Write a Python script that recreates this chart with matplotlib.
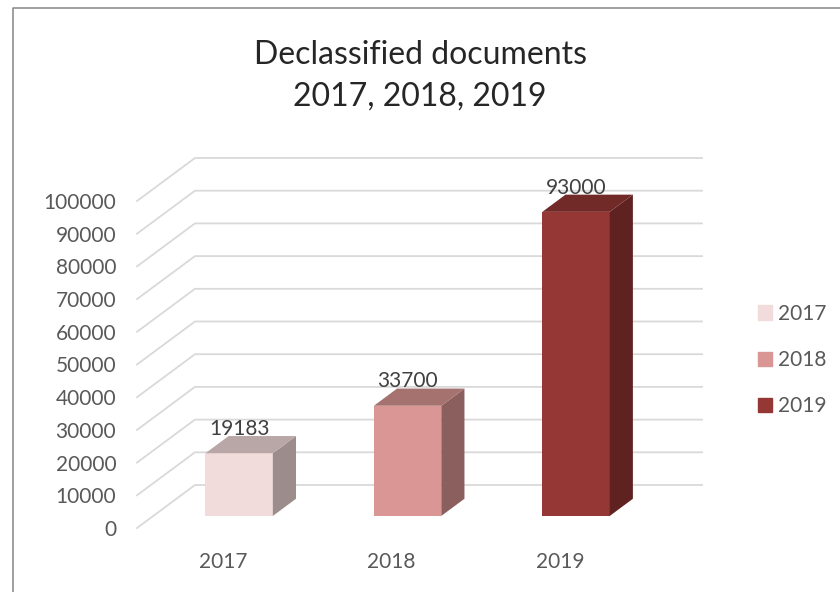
import numpy as np
import matplotlib.pyplot as plt
from matplotlib.lines import Line2D
from matplotlib.patches import Patch

plt.rcParams['font.family'] = ['Lato', 'DejaVu Sans']

# data
years = ['2017', '2018', '2019']
docs = [19183, 33700, 93000]
y_ticks = [0, 10000, 20000, 30000, 40000, 50000, 60000, 70000, 80000, 90000, 100000]

# styles
front_colors = ['#f2dcdb', '#d99694', '#953735']
side_colors = ['#9c8d8c', '#8b5f5e', '#602220']
top_colors = ['#b8a7a6', '#a57270', '#722a28']
W, H = 840, 592

fig = plt.figure(figsize=(W / 100, H / 100), dpi=100)
# axes = front plane of the fake 3d box
ax = fig.add_axes([137 / W, 1 - 528 / H, (644 - 137) / W, 327 / H])
ax.set_xlim(-0.51, 2.5)
ax.set_ylim(0, 100000)

# oblique depth of the box, in data units
depth_x = 58 / 168.5
depth_y = 43 / 327 * 100000

x0, x1 = ax.get_xlim()
for v in y_ticks:
    ax.plot([x0, x0 + depth_x, x1 + depth_x], [v, v + depth_y, v + depth_y],
            color='#d9d9d9', lw=1.3, clip_on=False, zorder=1, solid_joinstyle='miter')

# bars: front with ax.bar, sides and top as polygons
bar_w = 0.4
d0, d1 = 0.28, 0.68
for i, v in enumerate(docs):
    left = i + d0 * depth_x - bar_w / 2
    right = left + bar_w
    base = d0 * depth_y
    dx = (d1 - d0) * depth_x
    dy = (d1 - d0) * depth_y
    ax.bar(left + bar_w / 2, v, bar_w, bottom=base, color=front_colors[i], zorder=3, clip_on=False)
    ax.fill([right, right + dx, right + dx, right],
            [base, base + dy, base + dy + v, base + v],
            color=side_colors[i], lw=0, zorder=3, clip_on=False)
    ax.fill([left, left + dx, right + dx, right],
            [base + v, base + v + dy, base + v + dy, base + v],
            color=top_colors[i], lw=0, zorder=3, clip_on=False)
    ax.annotate(str(v), (left + bar_w / 2, base + v), xytext=(0, 17.5), textcoords='offset points',
                ha='center', va='center', fontsize=15, color='#404040', zorder=4, annotation_clip=False)

for s in ax.spines.values():
    s.set_visible(False)
ax.patch.set_alpha(0)
ax.set_xticks(range(len(years)), years)
ax.set_yticks(y_ticks)
ax.tick_params(axis='y', length=0, pad=15, labelsize=15, labelcolor='#595959')
ax.tick_params(axis='x', length=0, pad=17, labelsize=15, labelcolor='#595959')

fig.text(420 / W, 1 - 55 / H, 'Declassified documents', ha='center', va='center',
         fontsize=23, color='#262626')
fig.text(420 / W, 1 - 97 / H, '2017, 2018, 2019', ha='center', va='center',
         fontsize=23, color='#262626')

handles = [Patch(color=c, label=y) for c, y in zip(front_colors, years)]
fig.legend(handles=handles, loc='center left', bbox_to_anchor=(739 / W, 1 - 360 / H),
           frameon=False, fontsize=15, handlelength=0.67, handleheight=0.67,
           handletextpad=0.3, labelspacing=1.26, labelcolor='#595959')

# chart border, only left and top are in the picture
fig.add_artist(Line2D([13.5 / W, 13.5 / W, 1], [0, 1 - 7.5 / H, 1 - 7.5 / H],
                      color='#868686', lw=1.1, transform=fig.transFigure))

fig.savefig('out.png', dpi=100)
